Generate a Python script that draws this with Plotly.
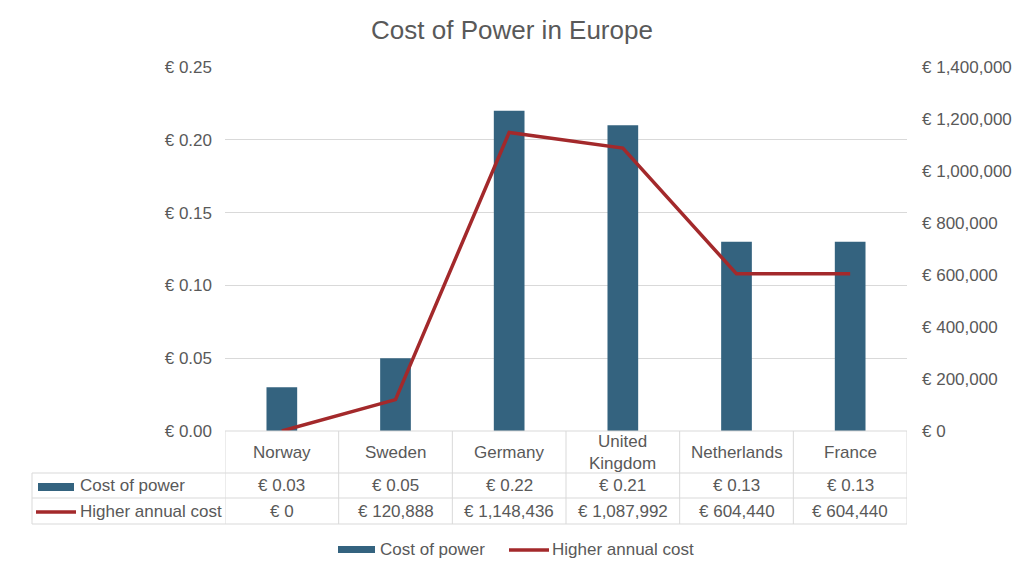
import plotly.graph_objects as go

countries = ["Norway", "Sweden", "Germany", "United Kingdom", "Netherlands", "France"]
country_labels = ["Norway", "Sweden", "Germany", "United<br>Kingdom", "Netherlands", "France"]
cost_of_power = [0.03, 0.05, 0.22, 0.21, 0.13, 0.13]
higher_annual_cost = [0, 120888, 1148436, 1087992, 604440, 604440]
series_names = ["Cost of power", "Higher annual cost"]

BAR = "#34637F"
LINE = "#A3292B"
TXT = "#595959"
GRID = "#D9D9D9"
FONT = "Liberation Sans, Arial, sans-serif"
FS = 17

W, H = 1024, 576
L, R, T, B = 225, 117, 67, 145
PH = H - T - B
PW = W - L - R

def py(ypx):
    return (H - B - ypx) / PH

def px(xpx):
    return (xpx - L) / PW

fig = go.Figure()
fig.add_trace(go.Bar(x=countries, y=cost_of_power, name=series_names[0],
                     marker=dict(color=BAR, line=dict(width=0)), width=0.27,
                     yaxis="y", showlegend=False))
fig.add_trace(go.Scatter(x=countries, y=higher_annual_cost, name=series_names[1],
                         mode="lines", line=dict(color=LINE, width=3.5),
                         yaxis="y2", showlegend=False))

shapes = []
ann = []
n = len(countries)
line_style = dict(color=GRID, width=1)
shapes.append(dict(type="line", xref="paper", yref="paper", x0=0, x1=1, y0=0, y1=0, line=line_style))
for ypx in (473, 498, 524):
    shapes.append(dict(type="line", xref="paper", yref="paper", x0=px(32), x1=1, y0=py(ypx), y1=py(ypx), line=line_style))
shapes.append(dict(type="line", xref="paper", yref="paper", x0=px(32), x1=px(32), y0=py(473), y1=py(524), line=line_style))
for i in range(n + 1):
    shapes.append(dict(type="line", xref="x", yref="paper", x0=i - 0.5, x1=i - 0.5, y0=0, y1=py(524), line=line_style))

for i, c in enumerate(countries):
    ann.append(dict(x=c, xref="x", y=py(452), yref="paper", text=country_labels[i], showarrow=False,
                    font=dict(size=FS, color=TXT, family=FONT), yanchor="middle"))
    ann.append(dict(x=c, xref="x", y=py(486), yref="paper", text=f"€ {cost_of_power[i]:.2f}", showarrow=False,
                    font=dict(size=FS, color=TXT, family=FONT), yanchor="middle"))
    ann.append(dict(x=c, xref="x", y=py(511), yref="paper", text=f"€ {higher_annual_cost[i]:,}", showarrow=False,
                    font=dict(size=FS, color=TXT, family=FONT), yanchor="middle"))

shapes.append(dict(type="rect", xref="paper", yref="paper", x0=px(38), x1=px(74), y0=py(491), y1=py(483),
                   fillcolor=BAR, line=dict(width=0)))
shapes.append(dict(type="line", xref="paper", yref="paper", x0=px(36), x1=px(76), y0=py(512), y1=py(512),
                   line=dict(color=LINE, width=3.5)))
ann.append(dict(x=px(78), xref="paper", y=py(486), yref="paper", text=series_names[0], showarrow=False,
                xanchor="left", yanchor="middle", font=dict(size=FS, color=TXT, family=FONT)))
ann.append(dict(x=px(78), xref="paper", y=py(511), yref="paper", text=series_names[1], showarrow=False,
                xanchor="left", yanchor="middle", font=dict(size=FS, color=TXT, family=FONT)))

shapes.append(dict(type="rect", xref="paper", yref="paper", x0=px(338), x1=px(375), y0=py(553), y1=py(546),
                   fillcolor=BAR, line=dict(width=0)))
shapes.append(dict(type="line", xref="paper", yref="paper", x0=px(509), x1=px(549), y0=py(550), y1=py(550),
                   line=dict(color=LINE, width=3.5)))
ann.append(dict(x=px(378), xref="paper", y=py(549), yref="paper", text=series_names[0], showarrow=False,
                xanchor="left", yanchor="middle", font=dict(size=FS, color=TXT, family=FONT)))
ann.append(dict(x=px(550), xref="paper", y=py(549), yref="paper", text=series_names[1], showarrow=False,
                xanchor="left", yanchor="middle", font=dict(size=FS, color=TXT, family=FONT)))

fig.update_layout(
    width=W, height=H,
    margin=dict(l=L, r=R, t=T, b=B, pad=0),
    paper_bgcolor="white", plot_bgcolor="white",
    font=dict(family=FONT, size=FS, color=TXT),
    title=dict(text="Cost of Power in Europe", x=0.5, xanchor="center", y=1 - 30 / H, yanchor="middle",
               font=dict(size=26, color=TXT, family=FONT)),
    xaxis=dict(type="category", showticklabels=False, showgrid=False, zeroline=False, showline=False,
               ticks="", range=[-0.5, n - 0.5]),
    yaxis=dict(range=[0, 0.25], dtick=0.05, tickprefix="€ ", tickformat=".2f", showgrid=True,
               gridcolor=GRID, gridwidth=1, zeroline=False, showline=False, ticks="",
               ticklabelstandoff=12, tickfont=dict(size=FS, color=TXT)),
    yaxis2=dict(range=[0, 1400000], dtick=200000, tickprefix="€ ", tickformat=",.0f", overlaying="y",
                side="right", showgrid=False, zeroline=False, showline=False, ticks="",
                ticklabelstandoff=14, tickfont=dict(size=FS, color=TXT)),
    shapes=shapes, annotations=ann, showlegend=False,
)

fig.write_html("out.html", config={"displayModeBar": False},
               post_script="document.body.style.margin='0';document.body.style.padding='0';")
